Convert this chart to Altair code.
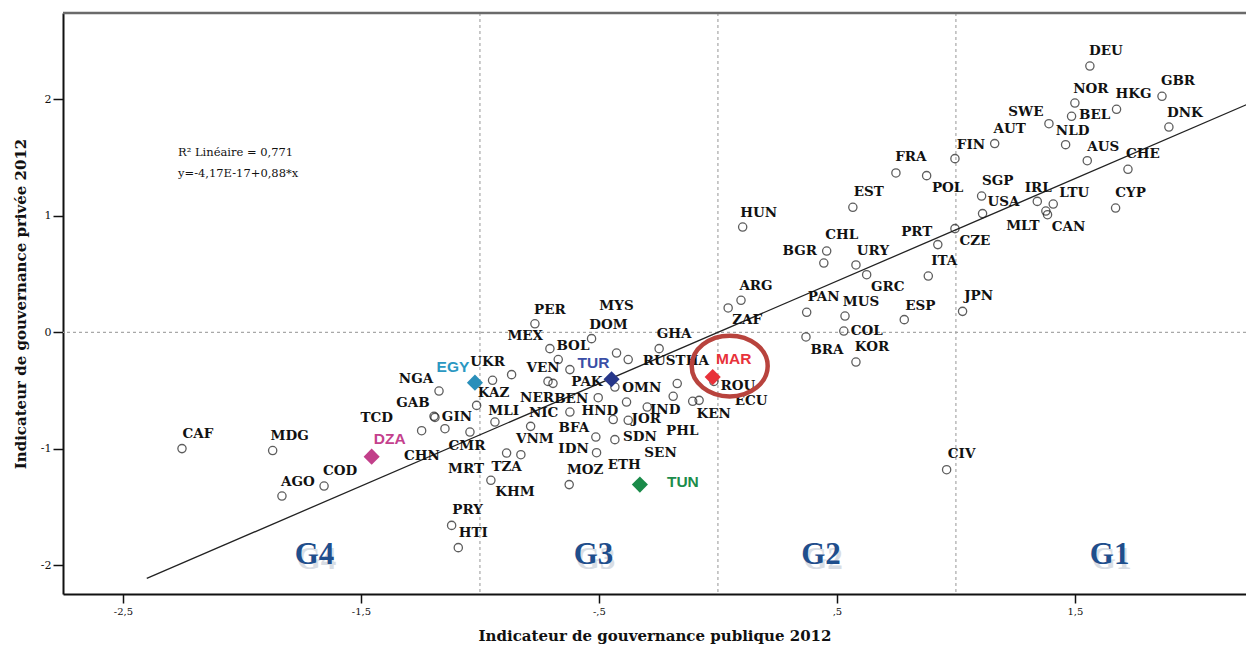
import altair as alt
import pandas as pd

# ---- 2012 governance indicators: public (x) vs private (y) ----
codes = [
    "DEU", "NOR", "HKG", "GBR", "BEL", "SWE", "NLD", "DNK", "AUT", "FIN",
    "AUS", "CHE", "FRA", "POL", "SGP", "USA", "IRL", "LTU", "MLT", "CAN",
    "CYP", "EST", "CZE", "PRT", "ITA", "CHL", "BGR", "URY", "GRC", "HUN",
    "ARG", "ZAF", "PAN", "MUS", "COL", "BRA", "KOR", "ESP", "JPN", "CIV",
    "CAF", "MDG", "AGO", "COD", "TCD", "GAB", "GIN", "NGA", "CMR", "CHN",
    "MLI", "KAZ", "UKR", "MRT", "TZA", "VNM", "NIC", "KHM", "PRY", "HTI",
    "PER", "BOL", "MEX", "VEN", "NER", "PAK", "BEN", "HND", "DOM", "MYS",
    "RUS", "THA", "GHA", "OMN", "ETH", "IND", "SEN", "JOR", "BFA", "SDN",
    "IDN", "MOZ", "PHL", "KEN", "ECU", "ROU",
]
public = [
    1.563, 1.500, 1.675, 1.866, 1.486, 1.391, 1.461, 1.895, 1.163, 0.996,
    1.552, 1.723, 0.748, 0.877, 1.108, 1.112, 1.342, 1.409, 1.378, 1.385,
    1.671, 0.567, 0.996, 0.924, 0.884, 0.457, 0.445, 0.580, 0.625, 0.104,
    0.097, 0.043, 0.373, 0.534, 0.529, 0.370, 0.580, 0.783, 1.028, 0.961,
    -2.252, -1.871, -1.832, -1.655, -1.245, -1.193, -1.189, -1.172, -1.147, -1.042,
    -1.014, -0.947, -0.867, -0.937, -0.888, -0.828, -0.787, -0.954, -1.119, -1.091,
    -0.769, -0.706, -0.671, -0.714, -0.693, -0.622, -0.503, -0.622, -0.531, -0.426,
    -0.377, -0.171, -0.247, -0.433, -0.440, -0.297, -0.384, -0.377, -0.513, -0.433,
    -0.510, -0.625, -0.188, -0.106, -0.079, -0.017,
]
private = [
    2.286, 1.968, 1.914, 2.026, 1.854, 1.791, 1.611, 1.762, 1.620, 1.491,
    1.473, 1.399, 1.368, 1.345, 1.170, 1.019, 1.124, 1.101, 1.041, 1.010,
    1.067, 1.073, 0.890, 0.753, 0.483, 0.698, 0.595, 0.578, 0.495, 0.904,
    0.275, 0.209, 0.172, 0.140, 0.011, -0.040, -0.255, 0.109, 0.180, -1.179,
    -0.998, -1.015, -1.405, -1.319, -0.844, -0.721, -0.730, -0.504, -0.827, -0.856,
    -0.627, -0.412, -0.363, -0.770, -1.036, -1.050, -0.807, -1.270, -1.657, -1.848,
    0.073, -0.140, -0.234, -0.421, -0.438, -0.320, -0.561, -0.684, -0.054, -0.178,
    -0.234, -0.440, -0.140, -0.470, -0.749, -0.641, -0.598, -0.755, -0.899, -0.921,
    -1.033, -1.307, -0.549, -0.592, -0.584, -0.421,
]
# label placement relative to each point, in pixels
label_dx = [
    16, 16, 17, 16, 23, -23, 7, 16, 15, 16,
    16, 15, 15, 21, 16, 21, 1, 21, -23, 21,
    15, 16, 20, -21, 16, 15, -24, 17, 21, 16,
    15, 19, 17, 16, 23, 21, 16, 16, 16, 15,
    16, 17, 16, 16, -45, -21, 22, -23, 22, -48,
    27, 1, -24, -29, 0, 14, 13, 24, 16, 15,
    15, 23, -33, -5, -16, 17, -27, 30, 17, 0,
    31, 15, 15, 27, 11, 18, 34, 18, -22, 25,
    -23, 16, 9, 21, 52, 24,
]
label_dy = [
    -15, -14, -15, -15, -1, -12, -14, -14, -15, -14,
    -14, -15, -16, 12, -15, -12, -13, -11, 15, 12,
    -15, -15, 12, -13, -15, -16, -12, -14, 12, -14,
    -14, 12, -15, -14, 0, 13, -15, -14, -15, -16,
    -15, -15, -14, -15, -13, -13, 0, -12, 17, 24,
    6, 13, -13, 47, 14, -16, -13, 12, -15, -15,
    -14, -3, -24, -13, 15, 12, 1, -1, -14, -47,
    1, -23, -15, 1, 45, 3, 51, -1, -9, -3,
    -4, -15, 35, 13, 1, 5,
]

# Highlighted countries
hl_codes = ["EGY", "DZA", "TUR", "MAR", "TUN"]
hl_public = [-1.021, -1.455, -0.447, -0.022, -0.328]
hl_private = [-0.432, -1.067, -0.403, -0.384, -1.307]
hl_colors = ["#2b98c2", "#c4418d", "#3a4ea6", "#e8323a", "#1c8c4b"]
hl_marker_colors = ["#2a8fba", "#c23f8a", "#27378a", "#e8323a", "#1a8a49"]
hl_dx = [-22, 18, -18, 21, 43]
hl_dy = [-16, -18, -16, -18, -3]

# Linear fit reported by the regression
r2 = 0.771
intercept = -4.17e-17
slope = 0.88
fit_range = [-2.40, 2.30]

# Quadrant boundaries and group names
vlines = [-1.0, 0.0, 1.0]
hlines = [0.0]
groups = ["G4", "G3", "G2", "G1"]
group_x = [-1.695, -0.523, 0.433, 1.646]
group_y = [-1.914, -1.914, -1.914, -1.914]

x_ticks = [-2.5, -1.5, -0.5, 0.5, 1.5]
y_ticks = [-2, -1, 0, 1, 2]

# ---- layout ----
W, H = 1183, 581
X_DOM = [-2.752, 2.219]
Y_DOM = [-2.246, 2.741]
kx = W / (X_DOM[1] - X_DOM[0])
ky = H / (Y_DOM[1] - Y_DOM[0])

pts = pd.DataFrame({"code": codes, "x": public, "y": private})
labels = pd.DataFrame({
    "code": codes,
    "x": [p + d / kx for p, d in zip(public, label_dx)],
    "y": [p - d / ky for p, d in zip(private, label_dy)],
})
hl = pd.DataFrame({"code": hl_codes, "x": hl_public, "y": hl_private,
                   "color": hl_marker_colors})
hl_labels = pd.DataFrame({
    "code": hl_codes,
    "x": [p + d / kx for p, d in zip(hl_public, hl_dx)],
    "y": [p - d / ky for p, d in zip(hl_private, hl_dy)],
    "color": hl_colors,
})
mar = hl_codes.index("MAR")
ring = pd.DataFrame({"x": [hl_public[mar] + 17 / kx],
                     "y": [hl_private[mar] + 11 / ky]})
fit = pd.DataFrame({"x": fit_range,
                    "y": [intercept + slope * v for v in fit_range]})
vl = pd.DataFrame({"x": vlines})
hz = pd.DataFrame({"y": hlines})
grp = pd.DataFrame({"g": groups, "x": group_x, "y": group_y})


def fr(v, fmt):
    return format(v, fmt).replace(".", ",")


stats = pd.DataFrame({"t": [
    "R\u00b2 Lin\u00e9aire = " + fr(r2, ".3f") + "\n"
    + "y=" + fr(intercept, ".2E") + "+" + fr(slope, ".2f") + "*x"
]})

# SPSS-style tick labels: hyphen minus, decimal comma, no leading zero
x_label_expr = (
    "(datum.value < 0 ? '-' : '') + "
    "(abs(datum.value) < 1 ? '' : floor(abs(datum.value))) + ',' + "
    "round((abs(datum.value) - floor(abs(datum.value))) * 10)"
)
y_label_expr = "(datum.value < 0 ? '-' : '') + abs(datum.value)"

xs = alt.Scale(domain=X_DOM, nice=False, zero=False)
ys = alt.Scale(domain=Y_DOM, nice=False, zero=False)
x_axis = alt.Axis(
    values=x_ticks, labelExpr=x_label_expr,
    title="Indicateur de gouvernance publique 2012",
    grid=False, tickSize=9, tickWidth=1.5, tickColor="#111",
    domainColor="#111", domainWidth=2, labelFont="DejaVu Serif",
    labelFontSize=10, labelColor="#111", labelPadding=3,
    titleFont="DejaVu Serif", titleFontSize=15, titleFontWeight="bold",
    titleColor="#111", titlePadding=12,
)
y_axis = alt.Axis(
    values=y_ticks, labelExpr=y_label_expr,
    title="Indicateur de gouvernance priv\u00e9e 2012",
    grid=False, tickSize=10, tickWidth=1.5, tickColor="#111",
    domainColor="#111", domainWidth=2, labelFont="DejaVu Serif",
    labelFontSize=11, labelColor="#111", labelPadding=2,
    titleFont="DejaVu Serif", titleFontSize=15, titleFontWeight="bold",
    titleColor="#111", titlePadding=12,
)
X = alt.X("x:Q", scale=xs, axis=x_axis)
Y = alt.Y("y:Q", scale=ys, axis=y_axis)

dash = dict(color="#a8a8a8", strokeDash=[3, 3], strokeWidth=1.2)
vrules = alt.Chart(vl).mark_rule(**dash).encode(x=X)
hrules = alt.Chart(hz).mark_rule(**dash).encode(y=Y)

top_border = alt.Chart(pd.DataFrame({"k": [0]})).mark_rule(
    color="#6a6a6a", strokeWidth=2.5
).encode(x=alt.value(0), x2=alt.value(W), y=alt.value(0))

fit_line = alt.Chart(fit).mark_line(color="#222", strokeWidth=1.3,
                                    clip=True).encode(x=X, y=Y)

circles = alt.Chart(pts).mark_point(
    shape="circle", filled=False, size=68, strokeWidth=1.3, color="#1a1a1a"
).encode(x=X, y=Y)

code_text = alt.Chart(labels).mark_text(
    font="DejaVu Serif", fontWeight="bold", fontSize=13.5, color="#111",
    align="center", baseline="middle"
).encode(x=X, y=Y, text="code:N")

diamonds = alt.Chart(hl).mark_point(
    shape="diamond", filled=True, size=260, opacity=1
).encode(x=X, y=Y, color=alt.Color("color:N", scale=None))

hl_text = alt.Chart(hl_labels).mark_text(
    font="Liberation Sans", fontSize=15.5, fontWeight="bold",
    align="center", baseline="middle"
).encode(x=X, y=Y, text="code:N", color=alt.Color("color:N", scale=None))

ellipse = "M-1,0A1,0.8,0,1,0,1,0A1,0.8,0,1,0,-1,0Z"
ring_mark = alt.Chart(ring).mark_point(
    shape=ellipse, filled=False, size=5776, strokeWidth=4.5,
    color="#b8433d", opacity=1
).encode(x=X, y=Y)

# soft drop shadow under the group names
grp_shadow = alt.Chart(grp).mark_text(
    font="Liberation Serif", fontWeight="bold", fontSize=31,
    color="#b3bccb", opacity=0.5, dx=2, dy=5,
    align="center", baseline="middle"
).encode(x=X, y=Y, text="g:N")
grp_text = alt.Chart(grp).mark_text(
    font="Liberation Serif", fontWeight="bold", fontSize=31,
    color="#1f4e8c", align="center", baseline="middle"
).encode(x=X, y=Y, text="g:N")

stats_text = alt.Chart(stats).mark_text(
    font="DejaVu Serif", fontSize=11.5, color="#111", align="left",
    baseline="middle", lineBreak="\n", lineHeight=21
).encode(x=alt.value(115), y=alt.value(140), text="t:N")

chart = alt.layer(
    vrules, hrules, fit_line, circles, code_text, diamonds, hl_text,
    ring_mark, grp_shadow, grp_text, stats_text, top_border
).properties(
    width=W, height=H,
    autosize=alt.AutoSizeParams(type="none"),
    padding={"left": 63, "top": 13, "right": 0, "bottom": 57},
    background="white",
).configure_view(stroke=None)

chart.save("out.html", embed_options={"renderer": "svg", "actions": False})
